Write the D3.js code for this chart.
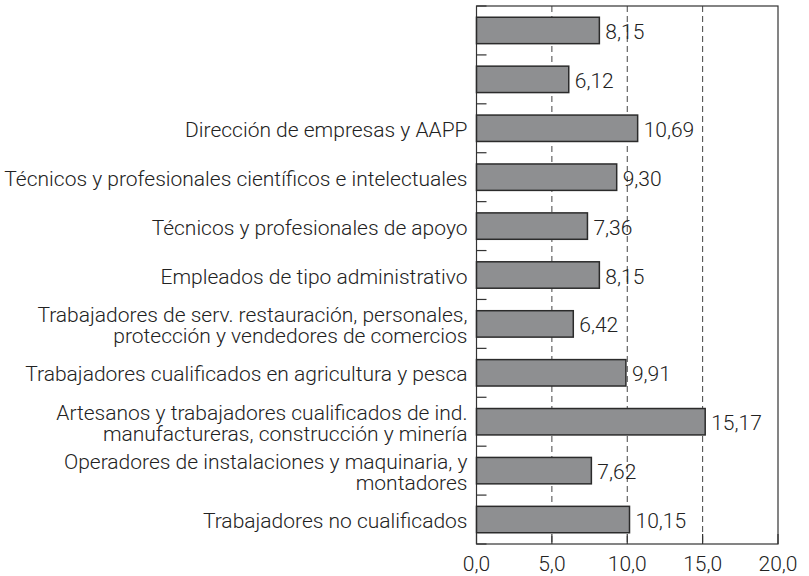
<!DOCTYPE html>
<html>
<head>
<meta charset="utf-8">
<script src="https://cdn.jsdelivr.net/npm/d3@7"></script>
<style>
  body { margin: 0; background: #fff; }
  svg text { font-family: Roboto, "Liberation Sans", Arial, sans-serif; font-weight: 300; fill: #222; }
</style>
</head>
<body>
<div id="chart"></div>
<script>
// categorías (el salto de línea separa las dos líneas de la etiqueta)
const categories = [
  "",
  "",
  "Dirección de empresas y AAPP",
  "Técnicos y profesionales científicos e intelectuales",
  "Técnicos y profesionales de apoyo",
  "Empleados de tipo administrativo",
  "Trabajadores de serv. restauración, personales,\nprotección y vendedores de comercios",
  "Trabajadores cualificados en agricultura y pesca",
  "Artesanos y trabajadores cualificados de ind.\nmanufactureras, construcción y minería",
  "Operadores de instalaciones y maquinaria, y\nmontadores",
  "Trabajadores no cualificados"
];
const values = [8.15, 6.12, 10.69, 9.30, 7.36, 8.15, 6.42, 9.91, 15.17, 7.62, 10.15];
const xTicks = [0, 5, 10, 15, 20];

const width = 809, height = 576;
const mLeft = 476.5, mRight = 778, mTop = 6, mBottom = 544;
const fs = 21;

const locale = d3.formatLocale({ decimal: ",", thousands: ".", grouping: [3], currency: ["", " €"] });
const fmtVal = locale.format(".2f");
const fmtTick = locale.format(".1f");

const svg = d3.select("#chart").append("svg")
  .attr("width", width)
  .attr("height", height);

const x = d3.scaleLinear().domain([0, 20]).range([mLeft, mRight]);
const y = d3.scaleBand().domain(d3.range(categories.length)).range([mTop, mBottom]).padding(0);
const barH = y.bandwidth() * 0.54;

// líneas de referencia discontinuas
svg.append("g")
  .selectAll("line")
  .data(xTicks.filter(d => d > 0 && d < 20))
  .join("line")
  .attr("x1", d => x(d)).attr("x2", d => x(d))
  .attr("y1", mTop).attr("y2", mBottom)
  .attr("stroke", "#444")
  .attr("stroke-width", 1)
  .attr("stroke-dasharray", "6,4");

// marco
svg.append("rect")
  .attr("x", mLeft).attr("y", mTop)
  .attr("width", mRight - mLeft).attr("height", mBottom - mTop)
  .attr("fill", "none")
  .attr("stroke", "#333")
  .attr("stroke-width", 1.2);

// barras
svg.append("g")
  .selectAll("rect")
  .data(values)
  .join("rect")
  .attr("x", x(0))
  .attr("y", (d, i) => y(i) + (y.bandwidth() - barH) / 2)
  .attr("width", d => x(d) - x(0))
  .attr("height", barH)
  .attr("fill", "#8e8f91")
  .attr("stroke", "#2b2b2b")
  .attr("stroke-width", 1.5);

// valores
svg.append("g")
  .selectAll("text")
  .data(values)
  .join("text")
  .attr("x", d => x(d) + 6)
  .attr("y", (d, i) => y(i) + y.bandwidth() / 2 + 1)
  .attr("dy", "0.36em")
  .attr("font-size", fs)
  .text(d => fmtVal(d));

// marcas del eje vertical (entre categorías)
const bounds = d3.range(categories.length + 1).map(i => i < categories.length ? y(i) : mBottom);
svg.append("g")
  .selectAll("line")
  .data(bounds)
  .join("line")
  .attr("x1", mLeft).attr("x2", mLeft + 10)
  .attr("y1", d => d).attr("y2", d => d)
  .attr("stroke", "#333")
  .attr("stroke-width", 1.2);

// marcas del eje horizontal
svg.append("g")
  .selectAll("line")
  .data(xTicks)
  .join("line")
  .attr("x1", d => x(d)).attr("x2", d => x(d))
  .attr("y1", mBottom).attr("y2", mBottom - 10)
  .attr("stroke", "#333")
  .attr("stroke-width", 1.2);

svg.append("g")
  .selectAll("text")
  .data(xTicks)
  .join("text")
  .attr("x", d => x(d))
  .attr("y", 571)
  .attr("text-anchor", "middle")
  .attr("font-size", fs)
  .text(d => fmtTick(d));

// etiquetas de categorías
const lab = svg.append("g")
  .selectAll("text")
  .data(categories)
  .join("text")
  .attr("text-anchor", "end")
  .attr("font-size", fs)
  .attr("y", (d, i) => y(i) + y.bandwidth() / 2 + 1);

lab.each(function(d) {
  const lines = d.split("\n");
  const t = d3.select(this);
  lines.forEach((s, k) => {
    t.append("tspan")
      .attr("x", mLeft - 9)
      .attr("dy", k === 0 ? (0.36 - (lines.length - 1) * 0.5) + "em" : "1em")
      .text(s);
  });
});
</script>
</body>
</html>
